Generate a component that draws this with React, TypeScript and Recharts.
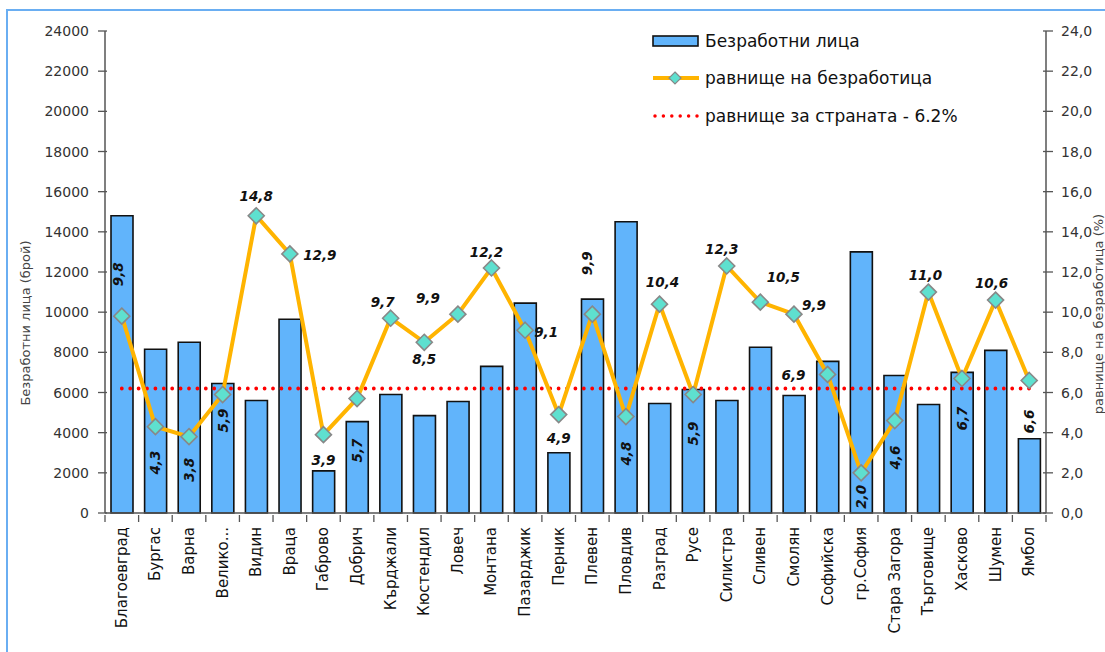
import {
  Bar,
  ComposedChart,
  LabelList,
  Legend,
  Line,
  XAxis,
  YAxis,
} from "recharts";

// Безработица по области: брой безработни (ляв мащаб) и равнище в % (десен мащаб)

const districts = [
  "Благоевград", "Бургас", "Варна", "Велико...", "Видин", "Враца", "Габрово",
  "Добрич", "Кърджали", "Кюстендил", "Ловеч", "Монтана", "Пазарджик", "Перник",
  "Плевен", "Пловдив", "Разград", "Русе", "Силистра", "Сливен", "Смолян",
  "Софийска", "гр.София", "Стара Загора", "Търговище", "Хасково", "Шумен", "Ямбол",
];

const unemployed = [
  14800, 8150, 8500, 6450, 5600, 9650, 2100, 4550, 5900, 4850, 5550, 7300,
  10450, 3000, 10650, 14500, 5450, 6150, 5600, 8250, 5850, 7550, 13000, 6850,
  5400, 7000, 8100, 3700,
];

const rate = [
  9.8, 4.3, 3.8, 5.9, 14.8, 12.9, 3.9, 5.7, 9.7, 8.5, 9.9, 12.2, 9.1, 4.9,
  9.9, 4.8, 10.4, 5.9, 12.3, 10.5, 9.9, 6.9, 2.0, 4.6, 11.0, 6.7, 10.6, 6.6,
];

const nationalRate = 6.2;

const leftTicks = [0, 2000, 4000, 6000, 8000, 10000, 12000, 14000, 16000, 18000, 20000, 22000, 24000];
const rightTicks = [0, 2, 4, 6, 8, 10, 12, 14, 16, 18, 20, 22, 24];

// where each rate label sits relative to its marker: [dx, dy, rotated]
const labelSpots: [number, number, boolean][] = [
  [-4, -42, true], [0, 36, true], [0, 33, true], [0, 26, true], [0, -20, false],
  [30, 1, false], [0, 25, false], [0, 52, true], [-8, -16, false], [0, 17, false],
  [-30, -16, false], [-5, -16, false], [21, 2, false], [0, 23, false],
  [-5, -51, true], [0, 37, true], [3, -22, false], [0, 39, true], [-5, -17, false],
  [23, -25, false], [20, -9, false], [-34, 1, false], [0, 24, true], [0, 37, true],
  [-3, -17, false], [0, 40, true], [-4, -17, false], [0, 41, true],
];

const data = districts.map((name, i) => ({
  name,
  unemployed: unemployed[i],
  rate: rate[i],
  national: nationalRate,
}));

const FONT = "'DejaVu Sans', Verdana, sans-serif";
const BAR_BLUE = "#61b4fb";
const ORANGE = "#ffb400";
const TURQ = "#5ee0cf";
const AXIS = "#555";
const PLOT_LEFT = 105;
const PLOT_RIGHT = 1046;
const BAND = (PLOT_RIGHT - PLOT_LEFT) / districts.length;

const comma = (v: number) => v.toFixed(1).replace(".", ",");

function LeftTick({ x, y, payload }: any) {
  return (
    <g>
      <line x1={x - 5} x2={x + 4} y1={y} y2={y} stroke={AXIS} strokeWidth={1.3} />
      <text x={x - 14} y={y} textAnchor="end" dominantBaseline="central"
        fontFamily={FONT} fontSize={14} fill="#333">
        {payload.value}
      </text>
    </g>
  );
}

function RightTick({ x, y, payload }: any) {
  return (
    <g>
      <line x1={x - 5} x2={x + 5} y1={y} y2={y} stroke={AXIS} strokeWidth={1.3} />
      <text x={x + 13} y={y} textAnchor="start" dominantBaseline="central"
        fontFamily={FONT} fontSize={14} fill="#333">
        {comma(payload.value)}
      </text>
    </g>
  );
}

function CategoryTick({ x, y, payload, index }: any) {
  const last = index === districts.length - 1;
  return (
    <g>
      <line x1={x - BAND / 2} x2={x - BAND / 2} y1={y} y2={y + 7} stroke={AXIS} strokeWidth={1.3} />
      {last && (
        <line x1={x + BAND / 2} x2={x + BAND / 2} y1={y} y2={y + 7} stroke={AXIS} strokeWidth={1.3} />
      )}
      <text x={x} y={y + 12} textAnchor="end" dominantBaseline="central"
        transform={`rotate(-90, ${x}, ${y + 12})`}
        fontFamily={FONT} fontSize={15} fill="#111">
        {payload.value}
      </text>
    </g>
  );
}

function Diamond({ cx, cy }: any) {
  if (cx == null || cy == null) return null;
  const r = 8;
  return (
    <path
      d={`M${cx},${cy - r} L${cx + r},${cy} L${cx},${cy + r} L${cx - r},${cy} Z`}
      fill={TURQ}
      stroke="#888"
      strokeWidth={1.6}
    />
  );
}

function RateLabel({ x, y, value, index }: any) {
  const [dx, dy, rotated] = labelSpots[index] ?? [0, -18, false];
  const cx = x + dx;
  const cy = y + dy;
  return (
    <text
      x={cx}
      y={cy}
      textAnchor="middle"
      dominantBaseline="central"
      transform={rotated ? `rotate(-90, ${cx}, ${cy})` : undefined}
      fontFamily={FONT}
      fontSize={13.5}
      fontWeight="bold"
      fontStyle="italic"
      fill="#111"
    >
      {comma(value)}
    </text>
  );
}

function ChartLegend() {
  const row = { display: "flex", alignItems: "center", height: 37.5 } as const;
  const txt = { fontFamily: FONT, fontSize: 17, color: "#111", marginLeft: 5 } as const;
  return (
    <div>
      <div style={row}>
        <svg width={48} height={14}>
          <rect x={1} y={2} width={45} height={10} fill={BAR_BLUE} stroke="#111" strokeWidth={1.6} />
        </svg>
        <span style={txt}>Безработни лица</span>
      </div>
      <div style={row}>
        <svg width={48} height={18}>
          <line x1={1} x2={47} y1={9} y2={9} stroke={ORANGE} strokeWidth={4} />
          <path d="M23,3 L29,9 L23,15 L17,9 Z" fill={TURQ} stroke="#888" strokeWidth={1.2} />
        </svg>
        <span style={txt}>равнище на безработица</span>
      </div>
      <div style={row}>
        <svg width={48} height={14}>
          <line x1={3} x2={46} y1={7} y2={7} stroke="#ff0000" strokeWidth={3.5}
            strokeDasharray="0 8.4" strokeLinecap="round" />
        </svg>
        <span style={txt}>равнище за страната - 6.2%</span>
      </div>
    </div>
  );
}

export default function App() {
  return (
    <div
      style={{
        position: "fixed",
        left: 0,
        top: 0,
        width: 1105,
        height: 652,
        overflow: "hidden",
        background: "#fff",
      }}
    >
      <div
        style={{
          position: "absolute",
          left: 6,
          top: 9,
          width: 1200,
          height: 800,
          border: "2px solid #6aaef2",
        }}
      />
      <div style={{ position: "absolute", left: 0, top: 0 }}>
        <ComposedChart
          width={1105}
          height={652}
          data={data}
          margin={{ top: 31, right: 0, bottom: 0, left: 0 }}
          barSize={22}
        >
          <XAxis
            dataKey="name"
            interval={0}
            height={139}
            tickSize={0}
            tickLine={false}
            axisLine={{ stroke: AXIS, strokeWidth: 1.5 }}
            tick={<CategoryTick />}
          />
          <YAxis
            yAxisId="left"
            width={105}
            domain={[0, 24000]}
            ticks={leftTicks}
            tickSize={0}
            tickLine={false}
            axisLine={{ stroke: AXIS, strokeWidth: 1.5 }}
            tick={<LeftTick />}
            label={({ viewBox }: any) => (
              <text
                x={25}
                y={viewBox.y + 292}
                textAnchor="middle"
                dominantBaseline="central"
                transform={`rotate(-90, 25, ${viewBox.y + 292})`}
                fontFamily={FONT}
                fontSize={13}
                fill="#444"
              >
                Безработни  лица (брой)
              </text>
            )}
          />
          <YAxis
            yAxisId="right"
            orientation="right"
            width={59}
            domain={[0, 24]}
            ticks={rightTicks}
            tickSize={0}
            tickLine={false}
            axisLine={{ stroke: AXIS, strokeWidth: 1.5 }}
            tick={<RightTick />}
            label={({ viewBox }: any) => (
              <text
                x={1098}
                y={viewBox.y + 283}
                textAnchor="middle"
                dominantBaseline="central"
                transform={`rotate(-90, 1098, ${viewBox.y + 283})`}
                fontFamily={FONT}
                fontSize={13}
                fill="#444"
              >
                равнище на безработица (%)
              </text>
            )}
          />
          <Legend
            layout="horizontal"
            verticalAlign="middle"
            align="center"
            content={<ChartLegend />}
            wrapperStyle={{ position: "absolute", left: 652, top: 22, width: 340 }}
          />
          <Bar
            yAxisId="left"
            dataKey="unemployed"
            name="Безработни лица"
            fill={BAR_BLUE}
            stroke="#111"
            strokeWidth={1.6}
            isAnimationActive={false}
          />
          <Line
            yAxisId="right"
            dataKey="national"
            name="равнище за страната - 6.2%"
            stroke="#ff0000"
            strokeWidth={3.8}
            strokeDasharray="0 8.4"
            strokeLinecap="round"
            dot={false}
            activeDot={false}
            isAnimationActive={false}
          />
          <Line
            yAxisId="right"
            dataKey="rate"
            name="равнище на безработица"
            type="linear"
            stroke={ORANGE}
            strokeWidth={4}
            dot={<Diamond />}
            activeDot={false}
            isAnimationActive={false}
          >
            <LabelList dataKey="rate" content={<RateLabel />} />
          </Line>
        </ComposedChart>
      </div>
    </div>
  );
}
